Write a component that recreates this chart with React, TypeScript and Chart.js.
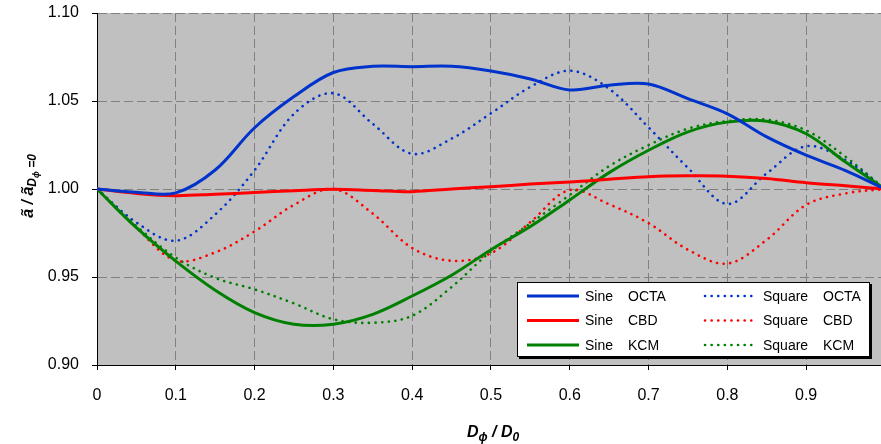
import { useEffect, useRef } from "react";
import { Chart, registerables } from "chart.js";

Chart.register(...registerables);

const FAMILY = "'Liberation Sans', Arial, sans-serif";

// Normalised wall distance D_phi / D_0
const dRatio = [0, 0.05, 0.1, 0.15, 0.2, 0.25, 0.3, 0.35, 0.4, 0.45, 0.5, 0.55, 0.6, 0.65, 0.7, 0.75, 0.8, 0.85, 0.9, 0.95, 1.0];

// Sine profiles
const sineOcta = [1.0, 0.9982, 0.9978, 1.0108, 1.0348, 1.0525, 1.0662, 1.0697, 1.0695, 1.0697, 1.067, 1.0625, 1.0563, 1.059, 1.0597, 1.0513, 1.0427, 1.0296, 1.0192, 1.0105, 1.0];
const sineCbd = [1.0, 0.9975, 0.9962, 0.997, 0.998, 0.999, 0.9998, 0.9992, 0.9985, 1.0, 1.0013, 1.0028, 1.004, 1.0055, 1.007, 1.0075, 1.0073, 1.006, 1.0036, 1.0018, 1.0];
const sineKcm = [1.0, 0.978, 0.959, 0.9425, 0.9298, 0.9232, 0.9232, 0.9288, 0.9392, 0.951, 0.9655, 0.9787, 0.9938, 1.0093, 1.022, 1.0325, 1.038, 1.0385, 1.0314, 1.0153, 1.0];

// Square profiles
const squareOcta = [1.0, 0.981, 0.9706, 0.9855, 1.0107, 1.0427, 1.0544, 1.037, 1.02, 1.0286, 1.043, 1.058, 1.0672, 1.0569, 1.035, 1.012, 0.9915, 1.0089, 1.0243, 1.0164, 1.0];
const squareCbd = [1.0, 0.978, 0.9594, 0.964, 0.9759, 0.991, 1.0, 0.986, 0.9665, 0.9592, 0.9635, 0.9812, 0.9994, 0.9913, 0.9806, 0.9655, 0.9576, 0.9712, 0.991, 0.9975, 1.0];
const squareKcm = [1.0, 0.979, 0.961, 0.9495, 0.943, 0.935, 0.926, 0.924, 0.928, 0.9443, 0.9646, 0.9805, 0.9966, 1.013, 1.0249, 1.0343, 1.0386, 1.0394, 1.0333, 1.0183, 1.0];

const xTickValues = [0, 0.1, 0.2, 0.3, 0.4, 0.5, 0.6, 0.7, 0.8, 0.9];
const yTickValues = [0.9, 0.95, 1.0, 1.05, 1.1];

const waveforms = ["Sine", "Square"];
const models = ["OCTA", "CBD", "KCM"];

const BLUE = "#0033cc";
const RED = "#ff0000";
const GREEN = "#008000";
const modelColors = [BLUE, RED, GREEN];

const DOT_DASH = [0.1, 6.5];
const DOT_WIDTH = 2.6;
const SOLID_WIDTH = 3;

const series = (label: string, values: number[], color: string, dotted: boolean) => ({
  label,
  data: dRatio.map((x, i) => ({ x, y: values[i] })),
  borderColor: color,
  backgroundColor: color,
  borderWidth: dotted ? DOT_WIDTH : SOLID_WIDTH,
  borderDash: dotted ? DOT_DASH : [],
  borderCapStyle: dotted ? "round" : "butt",
  pointRadius: 0,
  pointHoverRadius: 0,
  tension: 0.35,
  fill: false,
});

type Run = { text: string; size: number; dy: number };

function drawRuns(ctx: CanvasRenderingContext2D, runs: Run[], cx: number, baseline: number) {
  const font = (s: number) => `italic bold ${s}px ${FAMILY}`;
  let total = 0;
  const widths = runs.map((r) => {
    ctx.font = font(r.size);
    const w = ctx.measureText(r.text).width;
    total += w;
    return w;
  });
  let x = cx - total / 2;
  ctx.textAlign = "left";
  ctx.textBaseline = "alphabetic";
  ctx.fillStyle = "#000";
  runs.forEach((r, i) => {
    ctx.font = font(r.size);
    ctx.fillText(r.text, x, baseline + r.dy);
    x += widths[i];
  });
}

const plotBackground = {
  id: "plotBackground",
  beforeDraw(chart: any) {
    const { ctx, chartArea } = chart;
    ctx.save();
    ctx.fillStyle = "#c0c0c0";
    ctx.fillRect(chartArea.left, chartArea.top, chartArea.right - chartArea.left, chartArea.bottom - chartArea.top);
    ctx.restore();
  },
};

const axisTitles = {
  id: "axisTitles",
  afterDraw(chart: any) {
    const { ctx } = chart;
    ctx.save();
    drawRuns(
      ctx,
      [
        { text: "D", size: 16, dy: 0 },
        { text: "ϕ", size: 12, dy: 4 },
        { text: " / D", size: 16, dy: 0 },
        { text: "0", size: 12, dy: 4 },
      ],
      493,
      437
    );
    ctx.restore();

    ctx.save();
    ctx.translate(33, 186);
    ctx.rotate(-Math.PI / 2);
    drawRuns(
      ctx,
      [
        { text: "ã / ã", size: 16, dy: 0 },
        { text: "D", size: 12, dy: 3 },
        { text: "ϕ", size: 9, dy: 6 },
        { text: " =0", size: 12, dy: 3 },
      ],
      0,
      0
    );
    ctx.restore();
  },
};

const boxLegend = {
  id: "boxLegend",
  afterDraw(chart: any) {
    const { ctx } = chart;
    const bx = 517;
    const by = 282;
    const bw = 353;
    const bh = 75;
    ctx.save();
    ctx.fillStyle = "#000";
    ctx.fillRect(bx + 2, by + 2, bw, bh);
    ctx.fillStyle = "#fff";
    ctx.fillRect(bx, by, bw, bh);
    ctx.strokeStyle = "#000";
    ctx.lineWidth = 1;
    ctx.strokeRect(bx + 0.5, by + 0.5, bw - 1, bh - 1);

    const rows = [296, 320.5, 345];
    ctx.font = `14px ${FAMILY}`;
    ctx.textBaseline = "middle";
    ctx.textAlign = "left";
    models.forEach((m, i) => {
      const y = rows[i];
      // solid sample
      ctx.strokeStyle = modelColors[i];
      ctx.lineWidth = SOLID_WIDTH;
      ctx.setLineDash([]);
      ctx.lineCap = "butt";
      ctx.beginPath();
      ctx.moveTo(527, y);
      ctx.lineTo(579, y);
      ctx.stroke();
      // dotted sample
      ctx.lineWidth = DOT_WIDTH;
      ctx.setLineDash(DOT_DASH);
      ctx.lineCap = "round";
      ctx.beginPath();
      ctx.moveTo(705, y);
      ctx.lineTo(752, y);
      ctx.stroke();
      ctx.setLineDash([]);

      ctx.fillStyle = "#000";
      ctx.fillText(waveforms[0], 585, y + 1);
      ctx.fillText(m, 628, y + 1);
      ctx.fillText(waveforms[1], 763, y + 1);
      ctx.fillText(m, 823, y + 1);
    });
    ctx.restore();
  },
};

export default function App() {
  const canvasRef = useRef<HTMLCanvasElement>(null);

  useEffect(() => {
    const canvas = canvasRef.current;
    if (!canvas) return;
    const chart = new Chart(canvas, {
      type: "line",
      data: {
        datasets: [
          series("Sine OCTA", sineOcta, BLUE, false),
          series("Sine CBD", sineCbd, RED, false),
          series("Sine KCM", sineKcm, GREEN, false),
          series("Square OCTA", squareOcta, BLUE, true),
          series("Square CBD", squareCbd, RED, true),
          series("Square KCM", squareKcm, GREEN, true),
        ] as any,
      },
      options: {
        responsive: false,
        animation: false,
        devicePixelRatio: 1,
        layout: { padding: { top: 13, right: 0, bottom: 0, left: 0 } },
        plugins: {
          legend: { display: false },
          tooltip: { enabled: false },
        },
        scales: {
          x: {
            type: "linear",
            min: 0,
            max: 0.995,
            afterBuildTicks: (s: any) => {
              s.ticks = xTickValues.map((v) => ({ value: v }));
            },
            afterFit: (s: any) => {
              s.height = 79;
              s.paddingLeft = 0;
              s.paddingRight = 0;
            },
            ticks: {
              callback: (v: any) => (v === 0 ? "0" : Number(v).toFixed(1)),
              font: { family: FAMILY, size: 16 },
              color: "#000",
              padding: 16,
              maxRotation: 0,
              autoSkip: false,
            },
            grid: {
              color: "#808080",
              lineWidth: 1,
              tickColor: "#000",
              tickLength: 5,
            },
            border: { display: true, color: "#000", width: 1, dash: [9, 4] },
          },
          y: {
            type: "linear",
            min: 0.9,
            max: 1.1,
            afterBuildTicks: (s: any) => {
              s.ticks = yTickValues.map((v) => ({ value: v }));
            },
            afterFit: (s: any) => {
              s.width = 97;
              s.paddingTop = 0;
              s.paddingBottom = 0;
            },
            ticks: {
              callback: (v: any) => Number(v).toFixed(2),
              font: { family: FAMILY, size: 16 },
              color: "#000",
              padding: 13,
            },
            grid: {
              color: "#808080",
              lineWidth: 1,
              tickColor: "#000",
              tickLength: 5,
            },
            border: { display: true, color: "#000", width: 1, dash: [9, 4] },
          },
        },
      },
      plugins: [plotBackground, axisTitles, boxLegend],
    });
    return () => chart.destroy();
  }, []);

  return (
    <div style={{ position: "fixed", left: 0, top: 0, width: 881, height: 444, background: "#fff" }}>
      <canvas ref={canvasRef} width={881} height={444} style={{ display: "block" }} />
    </div>
  );
}
